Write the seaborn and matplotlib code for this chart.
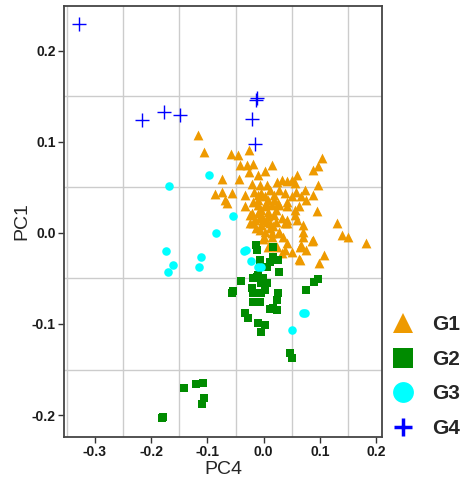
import numpy as np
import pandas as pd
import matplotlib
matplotlib.use("Agg")
import matplotlib.pyplot as plt
from matplotlib.lines import Line2D
import seaborn as sns

# PCA scores: PC4 (horizontal) and PC1 (vertical) per group
g1_pc4 = [-0.117, -0.106, -0.058, -0.046, -0.027, -0.042, -0.030, -0.019, -0.027, -0.074,
          -0.044, -0.011, 0.002, 0.014, 0.087, 0.096, 0.104, 0.060, 0.050, -0.021,
          -0.007, 0.005, 0.023, 0.032, 0.042, 0.055, 0.096, 0.073, -0.087, -0.074,
          -0.057, -0.069, -0.065, -0.034, -0.018, -0.004, 0.002, 0.007, 0.019, 0.028,
          0.037, 0.050, 0.058, 0.067, 0.076, 0.087, 0.041, -0.019, -0.011, 0.025,
          -0.034, -0.021, -0.011, -0.011, 0.002, 0.014, 0.028, 0.042, 0.055, 0.062,
          0.094, -0.016, -0.007, 0.007, 0.019, 0.032, 0.041, 0.055, -0.025, -0.004,
          0.005, 0.016, 0.002, 0.014, 0.028, 0.069, 0.069, 0.000, 0.034, 0.069,
          0.067, 0.087, 0.007, 0.023, 0.042, 0.037, 0.032, 0.051, 0.064, 0.076,
          0.108, 0.064, 0.099, 0.131, 0.140, 0.149, 0.182, 0.085, 0.027, 0.037,
          0.014, -0.004, -0.025, -0.002, 0.060, 0.011, 0.041, -0.019, -0.004, 0.007,
          -0.014, 0.011, 0.021, -0.002, -0.011, 0.011, 0.019, 0.004, -0.007, 0.021,
          0.062]
g1_pc1 = [0.107, 0.089, 0.086, 0.085, 0.091, 0.074, 0.075, 0.076, 0.067, 0.059,
          0.059, 0.063, 0.068, 0.074, 0.069, 0.073, 0.082, 0.064, 0.058, 0.054,
          0.053, 0.052, 0.056, 0.058, 0.057, 0.055, 0.052, 0.047, 0.043, 0.045,
          0.044, 0.036, 0.033, 0.042, 0.045, 0.044, 0.040, 0.036, 0.042, 0.047,
          0.044, 0.040, 0.045, 0.040, 0.036, 0.042, 0.034, 0.034, 0.036, 0.033,
          0.029, 0.022, 0.031, 0.022, 0.029, 0.031, 0.031, 0.029, 0.025, 0.029,
          0.024, 0.014, 0.016, 0.018, 0.020, 0.016, 0.011, 0.020, 0.011, 0.009,
          0.012, 0.007, 0.001, 0.000, 0.001, 0.009, 0.001, -0.005, -0.004, -0.004,
          -0.013, -0.008, -0.015, -0.015, -0.011, -0.019, -0.022, -0.021, -0.015, -0.019,
          -0.024, -0.030, -0.033, 0.011, -0.002, -0.005, -0.011, -0.009, 0.000, 0.011,
          -0.004, 0.020, 0.020, -0.007, 0.014, 0.011, 0.014, 0.011, 0.025, 0.023,
          0.005, 0.005, 0.025, 0.014, 0.042, 0.047, 0.036, 0.033, 0.003, 0.012,
          -0.029]

g2_pc4 = [-0.179, -0.181, -0.142, -0.120, -0.108, -0.106, -0.110, -0.055, -0.057, -0.041,
          -0.014, -0.012, 0.016, 0.016, 0.025, -0.007, 0.005, 0.027, 0.011, 0.002,
          -0.011, -0.019, -0.012, -0.002, 0.005, -0.004, -0.021, -0.019, -0.004, 0.002,
          0.025, 0.023, -0.019, -0.007, 0.016, 0.023, 0.011, -0.034, -0.028, -0.011,
          0.002, -0.004, 0.076, 0.090, 0.096, 0.046, 0.051]
g2_pc1 = [-0.202, -0.203, -0.170, -0.166, -0.165, -0.181, -0.188, -0.064, -0.066, -0.053,
          -0.013, -0.019, -0.016, -0.026, -0.030, -0.030, -0.037, -0.043, -0.032, -0.037,
          -0.046, -0.049, -0.048, -0.049, -0.055, -0.055, -0.060, -0.066, -0.066, -0.063,
          -0.066, -0.074, -0.076, -0.076, -0.082, -0.085, -0.084, -0.088, -0.093, -0.099,
          -0.101, -0.109, -0.063, -0.054, -0.051, -0.132, -0.137]

g3_pc4 = [-0.168, -0.097, -0.055, -0.085, -0.173, -0.161, -0.170, -0.112, -0.115, -0.035,
          -0.032, -0.023, -0.011, -0.004, 0.069, 0.073, 0.050]
g3_pc1 = [0.051, 0.063, 0.018, 0.000, -0.020, -0.035, -0.043, -0.027, -0.037, -0.020,
          -0.019, -0.031, -0.037, -0.037, -0.088, -0.088, -0.107]

g4_pc4 = [-0.329, -0.216, -0.177, -0.149, -0.014, -0.012, -0.021, -0.016]
g4_pc1 = [0.229, 0.124, 0.133, 0.129, 0.146, 0.148, 0.125, 0.097]

groups = ["G1", "G2", "G3", "G4"]
colors = {"G1": "#EE9A00", "G2": "#008B00", "G3": "#00FFFF", "G4": "#0000FF"}
markers = {"G1": "^", "G2": "s", "G3": "o", "G4": "+"}

df = pd.concat([
    pd.DataFrame({"PC4": g1_pc4, "PC1": g1_pc1, "group": "G1"}),
    pd.DataFrame({"PC4": g2_pc4, "PC1": g2_pc1, "group": "G2"}),
    pd.DataFrame({"PC4": g3_pc4, "PC1": g3_pc1, "group": "G3"}),
    pd.DataFrame({"PC4": g4_pc4, "PC1": g4_pc1, "group": "G4"}),
], ignore_index=True)

sns.set_theme(style="white")
plt.rcParams["font.family"] = ["Liberation Sans", "DejaVu Sans"]

fig = plt.figure(figsize=(4.64, 4.8), dpi=100)
ax = fig.add_axes([0.138, 0.0896, 0.685, 0.898])

sizes = {"G1": 50, "G2": 40, "G3": 38, "G4": 90}
for g in groups:
    sub = df[df["group"] == g]
    kw = dict(linewidth=1.0) if g == "G4" else dict(linewidth=0)
    sns.scatterplot(data=sub, x="PC4", y="PC1", marker=markers[g], color=colors[g],
                    s=sizes[g], ax=ax, legend=False, zorder=3, **kw)

ax.set_xlim(-0.355, 0.21)
ax.set_ylim(-0.224, 0.249)

xt = [-0.3, -0.2, -0.1, 0.0, 0.1, 0.2]
yt = [-0.2, -0.1, 0.0, 0.1, 0.2]
ax.set_xticks(xt)
ax.set_xticklabels([f"{v:.1f}" for v in xt])
ax.set_yticks(yt)
ax.set_yticklabels([f"{v:.1f}" for v in yt])
ax.set_xticks([-0.35, -0.25, -0.15, -0.05, 0.05, 0.15], minor=True)
ax.set_yticks([-0.15, -0.05, 0.05, 0.15], minor=True)
ax.grid(False)
ax.grid(which="minor", color="#CCCCCC", linewidth=1.0)
ax.set_axisbelow(True)
ax.tick_params(which="major", direction="out", length=4, width=1, color="#333333",
               labelsize=10, pad=2, bottom=True, left=True)
ax.tick_params(which="minor", length=0)
for lbl in ax.get_xticklabels() + ax.get_yticklabels():
    lbl.set_fontweight("bold")
    lbl.set_color("#1a1a1a")

for s in ax.spines.values():
    s.set_color("#444444")
    s.set_linewidth(1.3)

ax.set_xlabel("PC4", fontsize=14, labelpad=1)
ax.set_ylabel("PC1", fontsize=14, labelpad=1)

handles = []
for g in groups:
    if g == "G4":
        h = Line2D([], [], linestyle="none", marker="+", color=colors[g],
                   markersize=13, markeredgewidth=2.5)
    else:
        h = Line2D([], [], linestyle="none", marker=markers[g], color=colors[g],
                   markersize=14 if g != "G3" else 15, markeredgewidth=0)
    handles.append(h)
ax.legend(handles, groups, loc="center left", bbox_to_anchor=(1.035, 0.14),
          frameon=False, handlelength=1.0, handletextpad=0.9, labelspacing=0.75,
          borderpad=0, borderaxespad=0,
          prop={"family": "Liberation Sans", "weight": "bold", "size": 15})

fig.savefig("out.png", dpi=100)
